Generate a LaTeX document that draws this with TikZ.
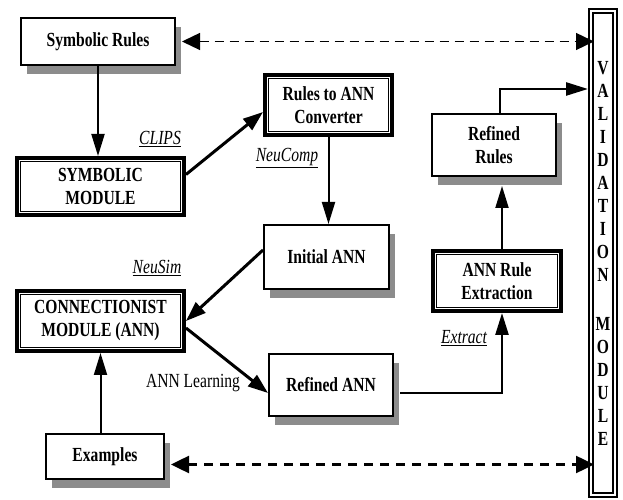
\documentclass[tikz,border=0pt]{standalone}
\usepackage{fontspec}
\setmainfont{Liberation Serif}[FakeStretch=0.78]
\usetikzlibrary{arrows.meta,shadows}
\begin{document}
\begin{tikzpicture}[x=1pt, y=1pt,
		font=\fontsize{20}{23}\selectfont\bfseries,
		box/.style={draw, fill=white, line width=2pt, inner sep=0pt, align=center,
			drop shadow={shadow xshift=6pt, shadow yshift=-9pt, fill=black!45, opacity=1}},
		modbox/.style={draw=white, fill=white, line width=1pt, double=black, double distance=1pt,
			preaction={draw=black, line width=11pt}, outer sep=5.5pt, inner sep=0pt, align=center},
		valbox/.style={draw=white, fill=white, line width=2pt, double=black, double distance=1.2pt,
			preaction={draw=black, line width=10pt}, outer sep=5pt, inner sep=0pt, align=center},
		lbl/.style={font=\fontsize{20}{23}\selectfont\itshape, anchor=base},
		arr/.style={-{Triangle[length=22pt,width=13pt]}, line width=2pt},
		darr/.style={-{Triangle[length=20pt,width=14pt]}, line width=3pt},
		varr/.style={{Triangle[length=18pt,width=17pt]}-{Triangle[length=18pt,width=17pt]}}]
	\useasboundingbox (0,0) rectangle (623,500);
	\node[box, minimum width=154pt, minimum height=47pt]		(SR)	at (98,458.5)	{Symbolic Rules};
	\node[modbox, minimum width=160pt, minimum height=50pt]	(SM)	at (100.5,313.5)	{SYMBOLIC\\MODULE};
	\node[modbox, minimum width=120pt, minimum height=53pt]	(RC)	at (328.5,395)	{Rules to ANN\\Converter};
	\node[box, minimum width=125pt, minimum height=64pt]		(IA)	at (326.5,243)	{Initial ANN};
	\node[modbox, minimum width=160pt, minimum height=53pt]	(CM)	at (100.5,179)	{CONNECTIONIST\\MODULE (ANN)};
	\node[box, minimum width=124pt, minimum height=62pt]		(RA)	at (331,115)	{Refined ANN};
	\node[box, minimum width=118pt, minimum height=45pt]		(EX)	at (105,43.5)	{Examples};
	\node[modbox, minimum width=121pt, minimum height=53pt]	(RE)	at (497,219)	{ANN Rule\\Extraction};
	\node[box, minimum width=124pt, minimum height=62pt]		(RR)	at (494,355)	{Refined\\Rules};
	\node[valbox, minimum width=20pt, minimum height=480pt]	(VM)	at (603,247)
		{V\\A\\L\\I\\D\\A\\T\\I\\O\\N\\[26pt]M\\O\\D\\U\\L\\E};
	% tool names
	\node[lbl]	(clips)		at (160,355)	{\underline{CLIPS}};
	\node[lbl]	(neucomp)	at (287,338)	{\underline{NeuComp}};
	\node[lbl]	(neusim)	at (157,226)	{\underline{NeuSim}};
	\node[lbl]	(extract)	at (464,156)	{\underline{Extract}};
	\node[anchor=base, font=\fontsize{20}{23}\selectfont]	(learn)	at (193,112)	{ANN Learning};
	% connectors
	\draw[arr]		(SR.south)		--	(SR.south |- SM.north);
	\draw[darr]		([yshift=12pt]SM.east)	--	([yshift=-7pt]RC.west);
	\draw[arr]		(RC.south)		--	(RC.south |- IA.north);
	\draw[darr]		([yshift=7pt]IA.west)	--	(CM.east);
	\draw[darr]		([yshift=-7pt]CM.east)	--	([yshift=-8pt]RA.west);
	\draw[arr]		(CM.south |- EX.north)	--	(CM.south);
	\draw[arr, line width=2.5pt]	([xshift=6pt, yshift=-8pt]RA.east)	-|	([xshift=5pt]RE.south);
	\draw[arr]		([xshift=5pt]RE.north)	--	([xshift=5pt, yshift=-9pt]RE.north |- RR.south);
	\draw[arr, line width=2.5pt]	([xshift=6pt]RR.north)	|-	([yshift=164pt]VM.west);
	\draw[varr, line width=1.3pt, dash pattern=on 9pt off 6pt]
		([xshift=6pt]SR.east)	--	([xshift=6pt]SR.east -| VM.west);
	\draw[varr, line width=2.5pt, dash pattern=on 9pt off 7pt]
		([xshift=6pt, yshift=-8pt]EX.east)	--	([xshift=6pt, yshift=-8pt]EX.east -| VM.west);
\end{tikzpicture}
\end{document}
